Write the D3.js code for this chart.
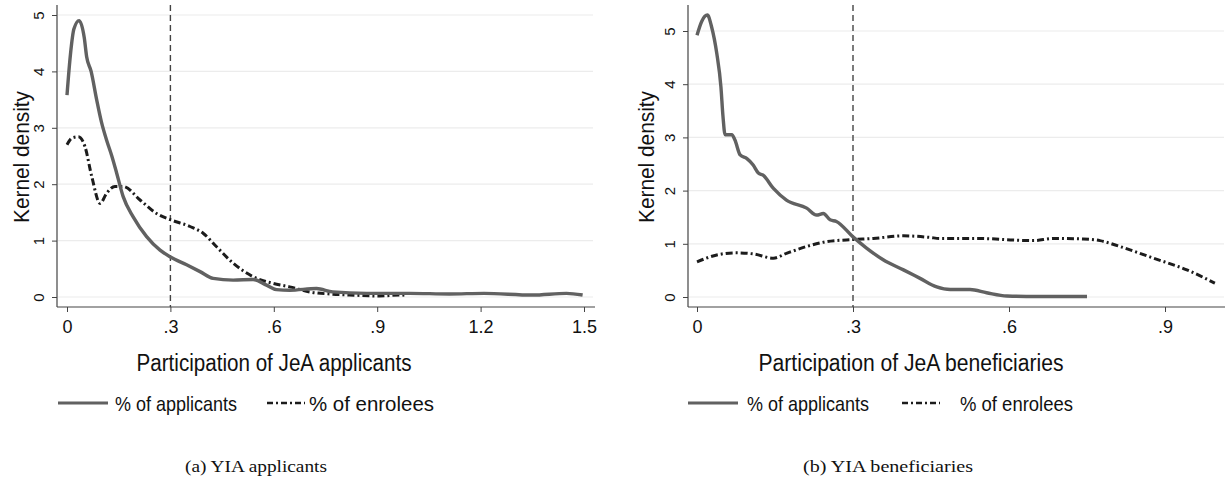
<!DOCTYPE html>
<html>
<head>
<meta charset="utf-8">
<script src="https://cdn.jsdelivr.net/npm/d3@7"></script>
<style>
  html, body { margin: 0; padding: 0; background: #fff; }
  svg { display: block; }
</style>
</head>
<body>
<svg id="chart" width="1226" height="482"></svg>
<script>
// ---------------- DATA ----------------
// Panel (a): YIA applicants — x = participation of JeA applicants
const aApplicantsX = [0, 0.01, 0.02, 0.035, 0.05, 0.057, 0.07, 0.086, 0.1, 0.115, 0.13, 0.144, 0.163, 0.192, 0.231, 0.27, 0.3, 0.347, 0.386, 0.424, 0.482, 0.54, 0.579, 0.608, 0.646, 0.724, 0.771, 0.869, 0.994, 1.11, 1.21, 1.35, 1.449, 1.496];
const aApplicantsY = [3.58, 4.3, 4.75, 4.9, 4.6, 4.26, 4.0, 3.5, 3.1, 2.78, 2.5, 2.2, 1.78, 1.42, 1.07, 0.83, 0.71, 0.57, 0.45, 0.33, 0.30, 0.31, 0.21, 0.13, 0.12, 0.15, 0.09, 0.065, 0.065, 0.053, 0.065, 0.035, 0.065, 0.035];
const aEnroleesX = [0, 0.015, 0.033, 0.052, 0.072, 0.096, 0.115, 0.139, 0.163, 0.212, 0.26, 0.3, 0.357, 0.395, 0.434, 0.482, 0.54, 0.598, 0.646, 0.704, 0.771, 0.82, 0.907, 0.965, 0.98];
const aEnroleesY = [2.7, 2.82, 2.84, 2.67, 2.13, 1.66, 1.84, 1.96, 1.96, 1.72, 1.48, 1.37, 1.25, 1.13, 0.89, 0.6, 0.36, 0.24, 0.18, 0.09, 0.05, 0.035, 0.018, 0.035, 0.03];
const aXTicks = [0, 0.3, 0.6, 0.9, 1.2, 1.5];
const aXTickLabels = ["0", ".3", ".6", ".9", "1.2", "1.5"];

// Panel (b): YIA beneficiaries — x = participation of JeA beneficiaries
const bApplicantsX = [0, 0.009, 0.02, 0.028, 0.038, 0.046, 0.05, 0.054, 0.067, 0.073, 0.083, 0.096, 0.108, 0.118, 0.127, 0.147, 0.172, 0.211, 0.23, 0.243, 0.256, 0.268, 0.3, 0.326, 0.358, 0.397, 0.429, 0.461, 0.487, 0.525, 0.557, 0.596, 0.653, 0.75];
const bApplicantsY = [4.92, 5.18, 5.3, 5.08, 4.58, 3.95, 3.39, 3.05, 3.05, 2.95, 2.67, 2.6, 2.48, 2.33, 2.29, 2.04, 1.82, 1.67, 1.54, 1.57, 1.45, 1.42, 1.13, 0.92, 0.7, 0.51, 0.35, 0.19, 0.14, 0.14, 0.08, 0.02, 0.01, 0.01];
const bEnroleesX = [0, 0.038, 0.073, 0.108, 0.147, 0.172, 0.211, 0.249, 0.3, 0.339, 0.397, 0.448, 0.467, 0.544, 0.608, 0.647, 0.685, 0.743, 0.775, 0.813, 0.878, 0.942, 0.996];
const bEnroleesY = [0.66, 0.79, 0.83, 0.81, 0.73, 0.82, 0.95, 1.04, 1.08, 1.1, 1.15, 1.12, 1.1, 1.1, 1.07, 1.06, 1.1, 1.09, 1.06, 0.95, 0.73, 0.51, 0.26];
const bXTicks = [0, 0.3, 0.6, 0.9];
const bXTickLabels = ["0", ".3", ".6", ".9"];

const yTicks = [0, 1, 2, 3, 4, 5];
const yTickLabels = ["0", "1", "2", "3", "4", "5"];
const cutoff = 0.3;

const seriesNames = ["% of applicants", "% of enrolees"];
const panelTitles = ["Participation of JeA applicants", "Participation of JeA beneficiaries"];
const captions = ["(a) YIA applicants", "(b) YIA beneficiaries"];
const yTitle = "Kernel density";

// ---------------- DRAW ----------------
const svg = d3.select("#chart");
const sansFont = "'Liberation Sans', Arial, Helvetica, sans-serif";
const serifFont = "'Liberation Serif', 'DejaVu Serif', serif";
const textColor = "#111";
const applColor = "#616161";
const enrColor = "#1c1c1c";

function zip(xs, ys) { return xs.map((x, i) => ({ x, y: ys[i] })); }

function panel(cfg) {
  const g = svg.append("g");
  const x = d3.scaleLinear().domain(cfg.xDomain).range(cfg.xRange);
  const y = d3.scaleLinear().domain([0, 5]).range(cfg.yRange);

  // gridlines
  g.append("g").selectAll("line").data(yTicks).join("line")
    .attr("x1", cfg.axisX + 1).attr("x2", cfg.gridRight)
    .attr("y1", d => y(d)).attr("y2", d => y(d))
    .attr("stroke", "#ececec").attr("stroke-width", 1.2);

  // y axis
  const yAxis = d3.axisLeft(y).tickValues(yTicks).tickFormat((d, i) => yTickLabels[i]).tickSize(5).tickSizeOuter(0);
  const ya = g.append("g").attr("transform", `translate(${cfg.axisX},0)`).call(yAxis);
  ya.select(".domain").remove();
  ya.selectAll(".tick line").attr("stroke", "#444");
  ya.selectAll(".tick text")
    .attr("x", 0).attr("y", 0).attr("dy", null)
    .attr("text-anchor", "middle")
    .attr("transform", `translate(-13,0) rotate(-90)`)
    .attr("font-family", sansFont).attr("font-size", 15).attr("fill", textColor);
  g.append("line").attr("x1", cfg.axisX).attr("x2", cfg.axisX)
    .attr("y1", cfg.axisTop).attr("y2", cfg.axisY).attr("stroke", "#444").attr("stroke-width", 1.2);

  // x axis
  const xAxis = d3.axisBottom(x).tickValues(cfg.xTicks).tickFormat((d, i) => cfg.xTickLabels[i]).tickSize(5).tickSizeOuter(0);
  const xa = g.append("g").attr("transform", `translate(0,${cfg.axisY})`).call(xAxis);
  xa.select(".domain").remove();
  xa.selectAll(".tick line").attr("stroke", "#444");
  xa.selectAll(".tick text").attr("y", 26).attr("dy", null)
    .attr("font-family", sansFont).attr("font-size", 18).attr("fill", textColor);
  g.append("line").attr("x1", cfg.axisX).attr("x2", cfg.axisRight)
    .attr("y1", cfg.axisY).attr("y2", cfg.axisY).attr("stroke", "#444").attr("stroke-width", 1.2);

  // cutoff line
  g.append("line").attr("x1", x(cutoff)).attr("x2", x(cutoff))
    .attr("y1", cfg.axisTop).attr("y2", cfg.axisY)
    .attr("stroke", "#444").attr("stroke-width", 1.4).attr("stroke-dasharray", "6,4");

  const line = d3.line().x(d => x(d.x)).y(d => y(d.y)).curve(d3.curveMonotoneX);
  g.append("path").datum(cfg.enr).attr("d", line)
    .attr("fill", "none").attr("stroke", enrColor).attr("stroke-width", 3)
    .attr("stroke-dasharray", "7,3,2,3");
  g.append("path").datum(cfg.appl).attr("d", line)
    .attr("fill", "none").attr("stroke", applColor).attr("stroke-width", 3.4)
    .attr("stroke-linejoin", "round");

  // y title
  g.append("text").attr("transform", `translate(${cfg.yTitleX},${cfg.yTitleY}) rotate(-90)`)
    .attr("text-anchor", "middle").attr("font-family", sansFont).attr("font-size", 22)
    .attr("fill", textColor).attr("textLength", 132).attr("lengthAdjust", "spacingAndGlyphs")
    .text(yTitle);

  // x title
  g.append("text").attr("x", cfg.xTitleX).attr("y", 371)
    .attr("text-anchor", "middle").attr("font-family", sansFont).attr("font-size", 23)
    .attr("fill", textColor).attr("textLength", cfg.xTitleLen).attr("lengthAdjust", "spacingAndGlyphs")
    .text(cfg.title);

  // legend
  const ly = 403;
  g.append("line").attr("x1", cfg.leg[0]).attr("x2", cfg.leg[0] + 50).attr("y1", ly).attr("y2", ly)
    .attr("stroke", applColor).attr("stroke-width", 3.2);
  g.append("text").attr("x", cfg.leg[1]).attr("y", ly + 8)
    .attr("font-family", sansFont).attr("font-size", 21).attr("fill", textColor)
    .attr("textLength", 122).attr("lengthAdjust", "spacingAndGlyphs").text(seriesNames[0]);
  g.append("line").attr("x1", cfg.leg[2]).attr("x2", cfg.leg[2] + 38).attr("y1", ly).attr("y2", ly)
    .attr("stroke", enrColor).attr("stroke-width", 2.6).attr("stroke-dasharray", "6,3,2,3");
  g.append("text").attr("x", cfg.leg[3]).attr("y", ly + 8)
    .attr("font-family", sansFont).attr("font-size", 21).attr("fill", textColor)
    .attr("textLength", cfg.leg[4]).attr("lengthAdjust", "spacingAndGlyphs").text(seriesNames[1]);

  // caption
  g.append("text").attr("x", cfg.capX).attr("y", 472)
    .attr("text-anchor", "middle").attr("font-family", serifFont).attr("font-size", 17)
    .attr("fill", textColor).attr("textLength", cfg.capLen).attr("lengthAdjust", "spacingAndGlyphs")
    .text(cfg.caption);
}

panel({
  xDomain: [0, 1.5], xRange: [67, 584], yRange: [297, 15],
  axisX: 57, axisTop: 5, axisY: 307, axisRight: 595, gridRight: 593,
  yTitleX: 29, yTitleY: 157,
  xTicks: aXTicks, xTickLabels: aXTickLabels,
  appl: zip(aApplicantsX, aApplicantsY), enr: zip(aEnroleesX, aEnroleesY),
  title: panelTitles[0], xTitleX: 274, xTitleLen: 275,
  leg: [58, 115, 267, 309, 125],
  caption: captions[0], capX: 256, capLen: 142
});

panel({
  xDomain: [0, 0.9], xRange: [697, 1165], yRange: [297, 31],
  axisX: 688, axisTop: 5, axisY: 307, axisRight: 1225, gridRight: 1224,
  yTitleX: 654, yTitleY: 157,
  xTicks: bXTicks, xTickLabels: bXTickLabels,
  appl: zip(bApplicantsX, bApplicantsY), enr: zip(bEnroleesX, bEnroleesY),
  title: panelTitles[1], xTitleX: 911, xTitleLen: 305,
  leg: [688, 747, 902, 960, 113],
  caption: captions[1], capX: 888, capLen: 170
});
</script>
</body>
</html>
